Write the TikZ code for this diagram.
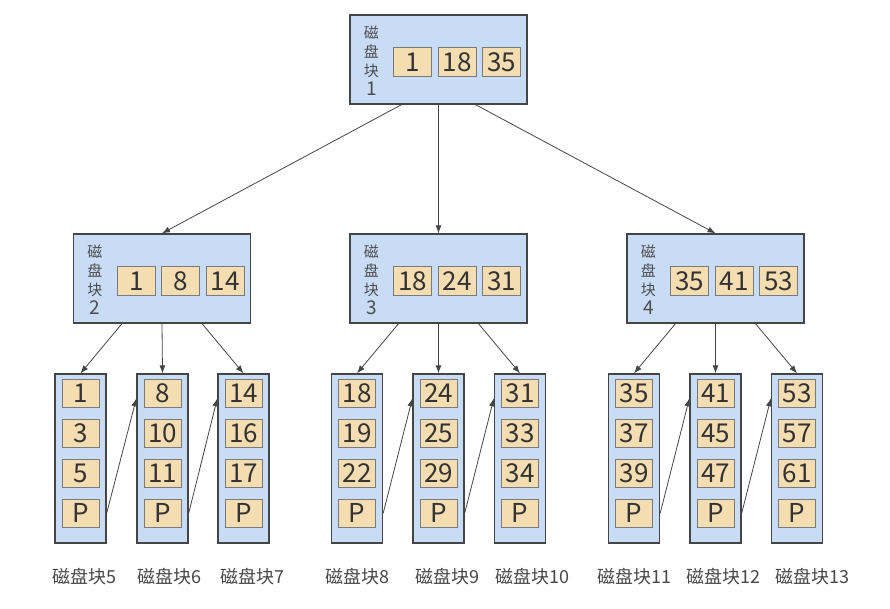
\documentclass[tikz,border=0pt]{standalone}
\usepackage{fontspec}
\setmainfont{Noto Sans CJK SC}
\usetikzlibrary{arrows.meta,calc}
\definecolor{blockblue}{HTML}{C9DCF6}
\definecolor{keytan}{HTML}{F4DDB1}
\definecolor{edgegray}{HTML}{454545}
\definecolor{keyline}{HTML}{7A7A7A}

\begin{document}
\begin{tikzpicture}[x=1pt,y=-1pt]
  \tikzstyle{block}=[draw=edgegray,line width=1.3pt,fill=blockblue,minimum width=177pt,minimum height=89pt,inner sep=0pt]
  \tikzstyle{leaf}=[block,minimum width=51pt,minimum height=169pt]
  \tikzstyle{key}=[draw=keyline,line width=0.8pt,fill=keytan,minimum width=38pt,minimum height=29pt,inner sep=0pt,text=black!80,font=\fontsize{26}{26}\selectfont]
  \tikzstyle{tag}=[align=center,inner sep=0pt,text=black!70,font=\fontsize{15}{19}\selectfont]
  \tikzstyle{blkname}=[anchor=west,inner sep=0pt,text=black!72,font=\fontsize{18}{18}\selectfont]
  \tikzstyle{link}=[draw=edgegray,line width=0.8pt,-{Latex[length=8pt,width=6pt]}]
  \useasboundingbox (0,0) rectangle (890,608);

  % root and second level
  \foreach \n/\x/\y/\a/\b/\c in {1/438.5/59.5/1/18/35, 2/162/278.5/1/8/14, 3/438.5/278.5/18/24/31, 4/715.5/278.5/35/41/53} {
    \node[block] (blk\n) at (\x,\y) {};
    \node[tag] (tag\n) at ($(blk\n.west)+(22,1.5)$) {磁\\盘\\块\\{\fontsize{19}{19}\selectfont\n}};
    \foreach \v [count=\i] in {\a,\b,\c}
      \node[key] (blk\n-\i) at ($(blk\n.north west)+(19+44.5*\i,47.5)$) {\v};
  }

  % leaves
  \foreach \n/\x/\lx/\a/\b/\c in {5/80.5/52/1/3/5, 6/162.5/137/8/10/11, 7/243.5/220/14/16/17,
      8/357/325/18/19/22, 9/438.5/415/24/25/29, 10/520/495/31/33/34,
      11/634/597/35/37/39, 12/715.5/686/41/45/47, 13/797/775/53/57/61} {
    \node[leaf] (lf\n) at (\x,458.5) {};
    \foreach \v [count=\i] in {\a,\b,\c,P}
      \node[key,minimum width=37pt,minimum height=28pt] (lf\n-\i) at ($(lf\n.north)+(0,40*\i-20)$) {\v};
    \node[blkname] (nm\n) at (\lx,577) {磁盘块\n};
  }

  % pointers
  \foreach \n/\dx in {2/-37,3/0,4/37}
    \draw[link] ($(blk1.south)+(\dx,0)$) -- (blk\n.north);
  \foreach \p/\c/\dx in {2/5/-40,2/6/0,2/7/40,3/8/-40,3/9/0,3/10/40,4/11/-40,4/12/0,4/13/40}
    \draw[link] ($(blk\p.south)+(\dx,0)$) -- (lf\c.north);
  \foreach \a/\b in {5/6,6/7,8/9,9/10,11/12,12/13}
    \draw[link] (lf\a.east |- lf\a-4) -- ($(lf\b.west |- lf\b-1)+(0,5)$);
\end{tikzpicture}
\end{document}
